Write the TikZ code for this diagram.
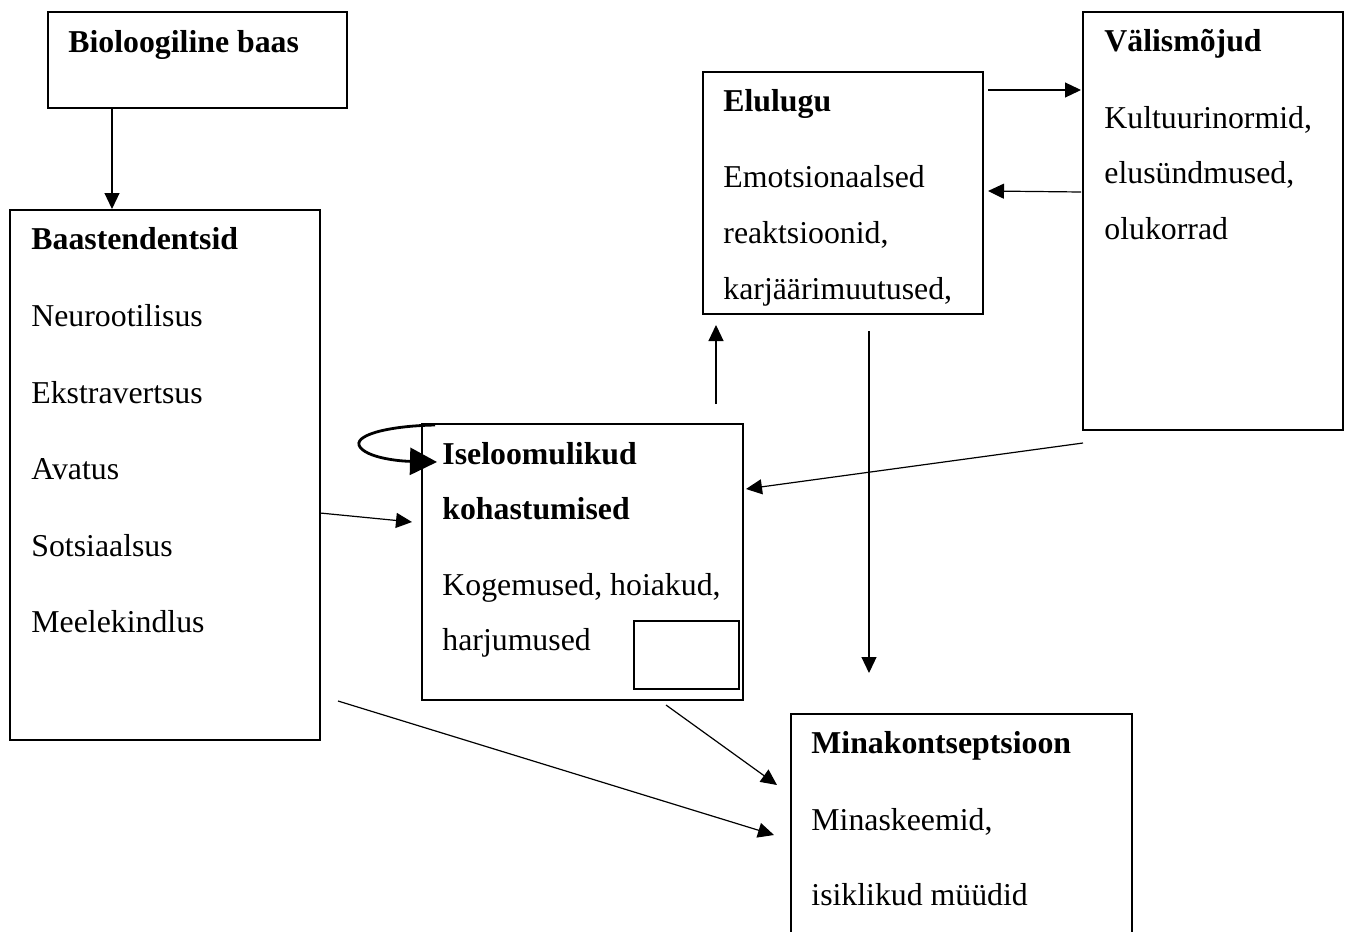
\documentclass[tikz,border=0pt]{standalone}
\usepackage{fontspec}
\setmainfont{Liberation Serif}
\usetikzlibrary{arrows.meta,calc}
\begin{document}
\begin{tikzpicture}[x=0.5pt,y=-0.5pt,
  box/.style={draw, line width=0.65pt, rectangle, inner sep=0pt, outer sep=0pt, anchor=north west},
  innerbox/.style={draw, line width=1.25pt, rectangle, inner sep=0pt, outer sep=0pt, anchor=north west},
  txt/.style={anchor=base west, inner sep=0pt, font=\fontsize{15.9}{19}\selectfont},
  ttl/.style={txt, font=\fontsize{15.9}{19}\selectfont\bfseries},
  conn/.style={line width=0.6pt, -{Triangle[length=8pt,width=7.5pt]}},
  loopconn/.style={line width=1.4pt, -{Triangle[length=13.5pt,width=13.5pt]}}]
\useasboundingbox (0,0) rectangle (1348,931);
\clip (0,0) rectangle (1348,931);

% boxes
\node[box, minimum width=149.5pt, minimum height=48pt] (bio) at (48,12) {};
\node[box, minimum width=155pt, minimum height=265pt] (baas) at (10,210) {};
\node[box, minimum width=140pt, minimum height=121pt] (elu) at (703,72) {};
\node[box, minimum width=130pt, minimum height=209pt] (valis) at (1083,12) {};
\node[box, minimum width=160.5pt, minimum height=138pt] (ise) at (422,424) {};
\node[box, minimum width=170.5pt, minimum height=130pt] (mina) at (791,714) {};
\node[innerbox, minimum width=52.5pt, minimum height=34pt] (inner) at (634,621) {};

% texts
\node[ttl] (tbio) at (68,53) {Bioloogiline baas};

\node[ttl] (tbaas) at (31,249) {Baastendentsid};
\node[txt] (b1) at (31,326) {Neurootilisus};
\node[txt] (b2) at (31,403) {Ekstravertsus};
\node[txt] (b3) at (31,479) {Avatus};
\node[txt] (b4) at (31,556) {Sotsiaalsus};
\node[txt] (b5) at (31,632) {Meelekindlus};

\node[ttl] (telu) at (723,112) {Elulugu};
\node[txt] (e1) at (723,187) {Emotsionaalsed};
\node[txt] (e2) at (723,243) {reaktsioonid,};
\node[txt] (e3) at (723,299) {karjäärimuutused,};

\node[ttl] (tvalis) at (1104,52) {Välismõjud};
\node[txt] (v1) at (1104,128) {Kultuurinormid,};
\node[txt] (v2) at (1104,183) {elusündmused,};
\node[txt] (v3) at (1104,239) {olukorrad};

\node[ttl] (tise1) at (442,464) {Iseloomulikud};
\node[ttl] (tise2) at (442,519) {kohastumised};
\node[txt] (i1) at (442,595) {Kogemused, hoiakud,};
\node[txt] (i2) at (442,650) {harjumused};

\node[ttl] (tmina) at (811,753) {Minakontseptsioon};
\node[txt] (m1) at (811,830) {Minaskeemid,};
\node[txt] (m2) at (811,905) {isiklikud müüdid};

% connectors
\draw[conn] ($(bio.south west)+(64,0)$) -- ($(baas.north west)+(102,-1)$);
\draw[conn] ($(baas.north east)+(0,303)$) -- ($(ise.north west)+(-10,98)$);
\draw[conn] ($(baas.south east)+(18,-39)$) -- ($(mina.north west)+(-17,121)$);
\draw[conn] ($(ise.south west)+(244,5)$) -- ($(mina.north west)+(-14,71)$);
\draw[conn] ($(ise.north west)+(294,-20)$) -- ($(elu.south west)+(13,11)$);
\draw[conn] ($(elu.north east)+(5,18)$) -- ($(valis.north west)+(-2,78)$);
\draw[conn] ($(valis.north west)+(-2,180)$) -- ($(elu.north east)+(5,119)$);
\draw[conn] ($(elu.south west)+(166,17)$) -- ($(mina.north west)+(78,-41)$);
\draw[conn] ($(valis.south west)+(0,13)$) -- ($(ise.north east)+(3,65)$);

% self loop
\coordinate (ls) at ($(ise.north west)+(13,1)$);
\coordinate (le) at ($(ise.north west)+(15,38)$);
\draw[loopconn] (ls) .. controls (385,426) and (352,436) .. (360,447)
  .. controls (367,457) and (395,461) .. (le);
\end{tikzpicture}
\end{document}
